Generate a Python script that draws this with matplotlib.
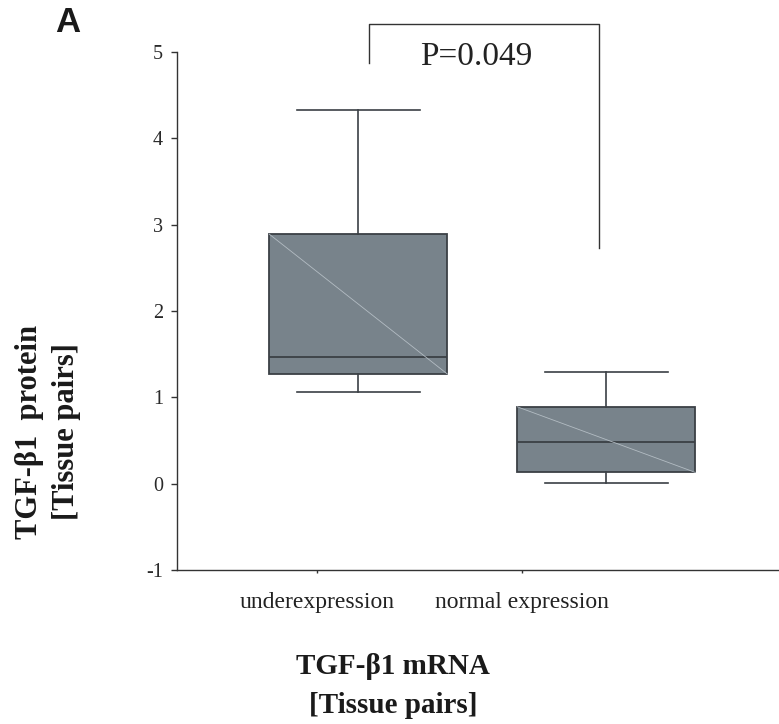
import matplotlib
matplotlib.use("Agg")
import matplotlib.pyplot as plt

# ---- data ----
categories = ["underexpression", "normal expression"]
box_positions = [1.0, 2.0]
tick_positions = [0.833, 1.66]
whislo = [1.06, 0.01]
q1 = [1.27, 0.13]
median = [1.47, 0.48]
q3 = [2.89, 0.89]
whishi = [4.33, 1.29]
yticks = [-1, 0, 1, 2, 3, 4, 5]
p_text = "P=0.049"

# ---- style ----
fill_col = "#78838b"
edge_col = "#3b4045"
diag_col = "#b3bcc3"
serif = ["Liberation Serif", "DejaVu Serif"]

fig = plt.figure(figsize=(7.79, 7.24), dpi=100)
ax = fig.add_axes([177 / 779, 1 - 570 / 724, 1 - 177 / 779, (570 - 52) / 724])

stats = []
for i in range(len(categories)):
    stats.append(dict(med=median[i], q1=q1[i], q3=q3[i],
                      whislo=whislo[i], whishi=whishi[i], fliers=[]))

box_w = 0.718
ax.bxp(stats, positions=box_positions, widths=box_w, patch_artist=True,
       showfliers=False, capwidths=0.498,
       boxprops=dict(facecolor=fill_col, edgecolor=edge_col, linewidth=1.3),
       medianprops=dict(color=edge_col, linewidth=1.3),
       whiskerprops=dict(color=edge_col, linewidth=1.2),
       capprops=dict(color=edge_col, linewidth=1.2))

# faint diagonal inside each box (top-left to bottom-right)
for pos, lo, hi in zip(box_positions, q1, q3):
    ax.plot([pos - box_w / 2, pos + box_w / 2], [hi, lo], color=diag_col,
            linewidth=0.6, zorder=3)

ax.set_xlim(0.269, 2.696)
ax.set_ylim(-1, 5)
ax.set_yticks(yticks)
ax.set_yticklabels([str(v) for v in yticks], family=serif, fontsize=14.5,
                   color="#2a2a2a")
ax.set_xticks(tick_positions)
ax.set_xticklabels(categories, family=serif, fontsize=17, color="#222222")
ax.tick_params(axis="y", direction="out", length=4, width=1, pad=6,
               color="#333333")
ax.tick_params(axis="x", direction="out", length=2.5, width=1, pad=13,
               color="#333333")
for s in ["top", "right"]:
    ax.spines[s].set_visible(False)
for s in ["left", "bottom"]:
    ax.spines[s].set_color("#333333")
    ax.spines[s].set_linewidth(1.0)

# significance bracket
bx_l, bx_r, by_top, by_l, by_r = 1.043, 1.972, 5.321, 4.869, 2.73
ax.plot([bx_l, bx_l, bx_r, bx_r], [by_l, by_top, by_top, by_r],
        color="#333333", linewidth=1.0, clip_on=False)
ax.text(1.477, 4.942, p_text, ha="center", va="center", family=serif,
        fontsize=24, color="#222222")

# axis labels
fig.text(48 / 779, 1 - 432 / 724, "TGF-β1  protein\n[Tissue pairs]",
         rotation=90, ha="center", va="center", family=serif,
         fontweight="bold", fontsize=22, color="#1a1a1a", linespacing=1.35)
fig.text(393 / 779, 1 - 686 / 724, "TGF-β1 mRNA\n[Tissue pairs]",
         ha="center", va="center", family=serif, fontweight="bold",
         fontsize=21, color="#1a1a1a", linespacing=1.6)

# panel letter
fig.text(68 / 779, 1 - 23 / 724, "A", ha="center", va="center",
         family=["Liberation Sans", "DejaVu Sans"], fontweight="bold",
         fontsize=25, color="#1a1a1a")

fig.savefig("out.png", dpi=100)
